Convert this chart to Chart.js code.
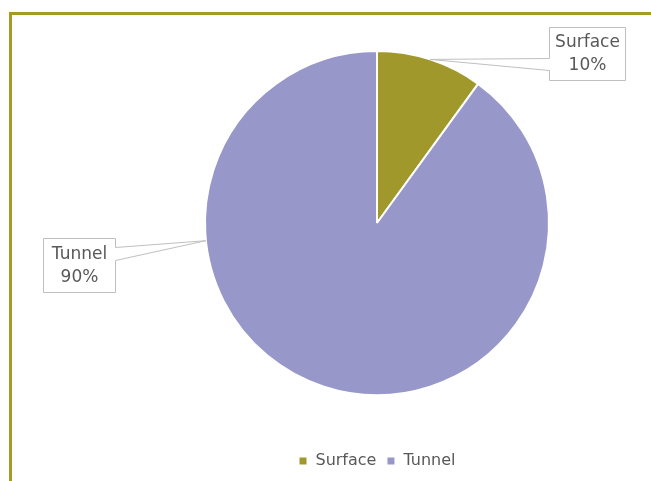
<!DOCTYPE html>
<html>
<head>
<meta charset="utf-8">
<script src="https://cdn.jsdelivr.net/npm/chart.js@4"></script>
<style>
  html, body { margin: 0; padding: 0; background: #fff; }
  #wrap { position: relative; width: 651px; height: 481px; overflow: hidden; }
  #frame {
    position: absolute; left: 9px; top: 12px; width: 700px; height: 500px;
    border-top: 3px solid #A39B26; border-left: 3px solid #A39B26;
  }
  #pie { position: absolute; left: 0; top: 0; }
</style>
</head>
<body>
<div id="wrap">
  <div id="frame"></div>
  <canvas id="pie" width="651" height="481"></canvas>
</div>
<script>
// ─ 데이터
const categories = ['Surface', 'Tunnel'];
const shares = [10, 90];
const pctLabels = ['10%', '90%'];
const sliceColors = ['#A0982A', '#9797C9'];

// ─ 콜아웃 배치 (중심 기준 오프셋)
const callouts = [
  { at: 0.5, dx: 172, dy: -196, w: 76, h: 53, side: 'left', w1: 31, w2: 43 },
  { at: 0.704, dx: -334, dy: 15, w: 72, h: 54, side: 'right', w1: 9, w2: 22 }
];

const textColor = '#595959';
const lineColor = '#BFBFBF';
const fontFamily = '"DejaVu Sans", Verdana, sans-serif';

const calloutPlugin = {
  id: 'callouts',
  afterDraw(chart) {
    const ctx = chart.ctx;
    const meta = chart.getDatasetMeta(0);
    meta.data.forEach((arc, i) => {
      const c = callouts[i];
      const p = arc.getProps(['x', 'y', 'outerRadius', 'startAngle', 'endAngle'], true);
      const a = p.startAngle + (p.endAngle - p.startAngle) * c.at;
      const ax = p.x + Math.cos(a) * p.outerRadius;
      const ay = p.y + Math.sin(a) * p.outerRadius;
      const L = Math.round(p.x + c.dx) + 0.5;
      const T = Math.round(p.y + c.dy) + 0.5;
      const R = L + c.w, B = T + c.h;

      ctx.save();
      ctx.beginPath();
      if (c.side === 'left') {
        ctx.moveTo(L, T);
        ctx.lineTo(R, T);
        ctx.lineTo(R, B);
        ctx.lineTo(L, B);
        ctx.lineTo(L, T + c.w2);
        ctx.lineTo(ax, ay);
        ctx.lineTo(L, T + c.w1);
      } else {
        ctx.moveTo(L, T);
        ctx.lineTo(R, T);
        ctx.lineTo(R, T + c.w1);
        ctx.lineTo(ax, ay);
        ctx.lineTo(R, T + c.w2);
        ctx.lineTo(R, B);
        ctx.lineTo(L, B);
      }
      ctx.closePath();
      ctx.fillStyle = '#fff';
      ctx.fill();
      ctx.strokeStyle = lineColor;
      ctx.lineWidth = 1;
      ctx.stroke();

      ctx.fillStyle = textColor;
      ctx.font = '17px ' + fontFamily;
      ctx.textAlign = 'center';
      ctx.textBaseline = 'middle';
      const cx = (L + R) / 2, cy = (T + B) / 2;
      ctx.fillText(categories[i], cx, cy - 11);
      ctx.fillText(pctLabels[i], cx, cy + 12);
      ctx.restore();
    });
  }
};

document.addEventListener('DOMContentLoaded', () => {
  const ctx = document.getElementById('pie').getContext('2d');
  new Chart(ctx, {
    type: 'pie',
    data: {
      labels: categories,
      datasets: [{
        data: shares,
        backgroundColor: sliceColors,
        borderColor: '#fff',
        borderWidth: 2
      }]
    },
    options: {
      responsive: false,
      animation: false,
      layout: { padding: { top: 3, bottom: 2, left: 204, right: 101 } },
      plugins: {
        tooltip: { enabled: false },
        legend: {
          position: 'bottom',
          labels: {
            boxWidth: 9,
            boxHeight: 9,
            color: textColor,
            font: { family: fontFamily, size: 16 },
            padding: 10
          }
        }
      }
    },
    plugins: [calloutPlugin]
  });
});
</script>
</body>
</html>
